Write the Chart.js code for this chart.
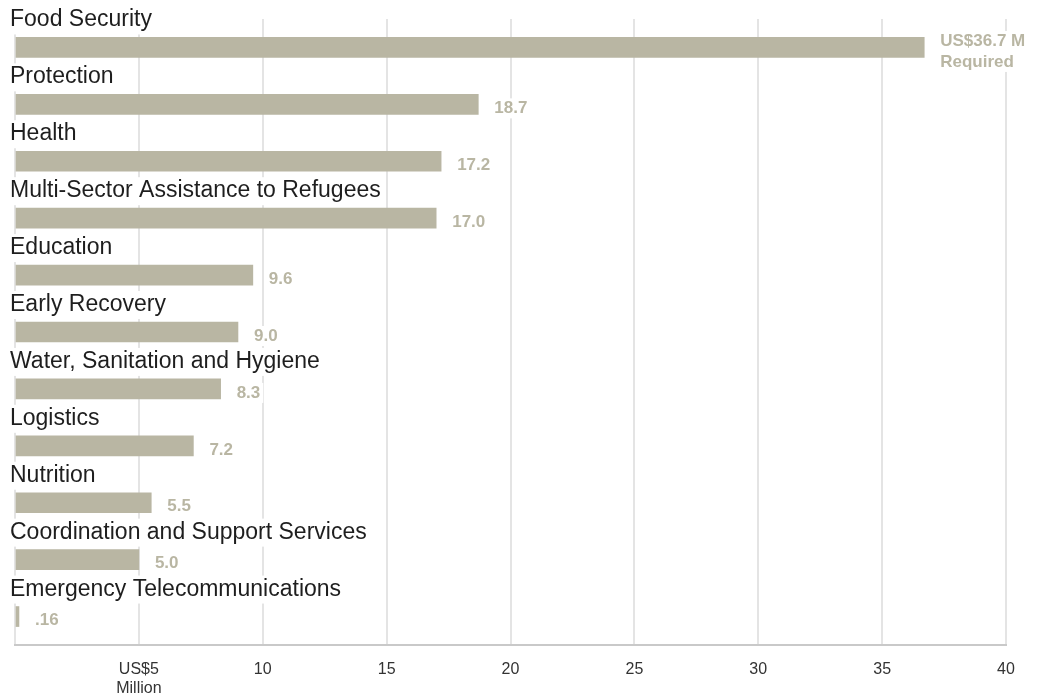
<!DOCTYPE html>
<html>
<head>
<meta charset="utf-8">
<script src="https://cdn.jsdelivr.net/npm/chart.js@4"></script>
<style>
  html, body { margin: 0; padding: 0; background: #fff; }
  #wrap { width: 1043px; height: 698px; position: relative; }
</style>
</head>
<body>
<div id="wrap"><canvas id="sectorChart"></canvas></div>
<script>
// Funding requirements by sector (US$ million)
const sectors = [
    "Food Security",
    "Protection",
    "Health",
    "Multi-Sector Assistance to Refugees",
    "Education",
    "Early Recovery",
    "Water, Sanitation and Hygiene",
    "Logistics",
    "Nutrition",
    "Coordination and Support Services",
    "Emergency Telecommunications",
];
const required = [36.7, 18.7, 17.2, 17.0, 9.6, 9.0, 8.3, 7.2, 5.5, 5.0, 0.16];
const valueLabels = [
    ["US$36.7 M", "Required"],
    "18.7", "17.2", "17.0", "9.6", "9.0", "8.3", "7.2", "5.5", "5.0", ".16",
];
const tickValues = [5, 10, 15, 20, 25, 30, 35, 40];
const firstTickLabel = ["US$5", "Million"];

const barColor = "#b9b6a3";
const labelFont = "'Liberation Sans', Arial, Helvetica, sans-serif";

// draws sector names above bars and values after bars
const barLabels = {
    id: "barLabels",
    afterDatasetsDraw(chart) {
        const ctx = chart.ctx;
        const meta = chart.getDatasetMeta(0);
        ctx.save();
        meta.data.forEach((bar, i) => {
            const top = bar.y - bar.height / 2;

            // sector name
            ctx.font = "23px " + labelFont;
            ctx.textAlign = "left";
            ctx.textBaseline = "alphabetic";
            const name = sectors[i];
            const w = ctx.measureText(name).width;
            ctx.fillStyle = "#fff";
            ctx.fillRect(8, top - 31, w + 4, 28);
            ctx.fillStyle = "#1e1e1e";
            ctx.fillText(name, 10, top - 11);

            // value
            let lines = valueLabels[i];
            if (!Array.isArray(lines)) lines = [lines];
            ctx.font = "bold 17px " + labelFont;
            ctx.textBaseline = "middle";
            const lh = 21;
            const x = bar.x + 16;
            const y0 = bar.y + 4 - (lines.length - 1) * lh / 2;
            let maxW = 0;
            lines.forEach(l => { maxW = Math.max(maxW, ctx.measureText(l).width); });
            ctx.fillStyle = "#fff";
            ctx.fillRect(x - 3, y0 - 10, maxW + 6, (lines.length - 1) * lh + 20);
            ctx.fillStyle = barColor;
            lines.forEach((l, k) => ctx.fillText(l, x, y0 + k * lh));
        });
        ctx.restore();
    },
};

const ctx = document.getElementById("sectorChart").getContext("2d");
const sectorChart = new Chart(ctx, {
    type: "bar",
    data: {
        labels: sectors,
        datasets: [{
            data: required,
            backgroundColor: barColor,
            barThickness: 20,
        }],
    },
    options: {
        indexAxis: "y",
        responsive: true,
        maintainAspectRatio: false,
        animation: false,
        layout: { padding: { left: 14, right: 37, top: 19, bottom: 2 } },
        plugins: {
            legend: { display: false },
            tooltip: { enabled: false },
        },
        scales: {
            y: { display: false },
            x: {
                min: 0,
                max: 40,
                afterBuildTicks(scale) {
                    scale.ticks = [0].concat(tickValues).map(v => ({ value: v }));
                },
                afterFit(scale) {
                    scale.height = 51;
                },
                grid: { color: "#e4e4e4", lineWidth: 2, drawTicks: false },
                border: { color: "#c9c9c9", width: 2 },
                ticks: {
                    padding: 15,
                    color: "#333",
                    font: { size: 16, family: labelFont },
                    callback: v => (v === 0 ? "" : v === 5 ? firstTickLabel : String(v)),
                },
            },
        },
    },
    plugins: [barLabels],
});
</script>
</body>
</html>
